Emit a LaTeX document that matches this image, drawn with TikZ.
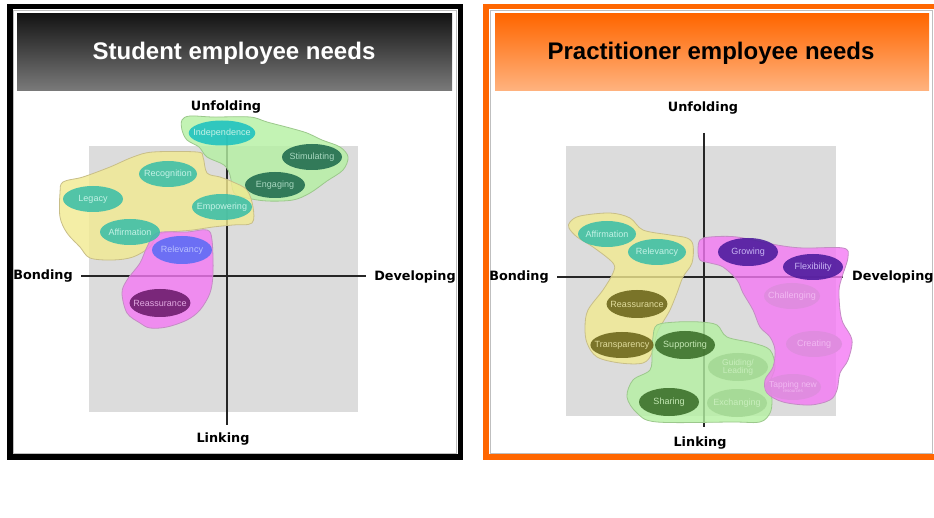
\documentclass[tikz,border=0pt]{standalone}
\usepackage{fontspec}
\setmainfont{Liberation Sans}
\newfontfamily\axisfont{DejaVu Sans}
\usetikzlibrary{shapes.geometric}
\definecolor{quadgray}{HTML}{DCDCDC}
\definecolor{frameorange}{HTML}{FF6600}
\definecolor{tealfill}{HTML}{3CBFA8}
\definecolor{tealtext}{HTML}{C4F2E6}
\definecolor{cyanfill}{HTML}{1CC2C0}
\definecolor{dkgreenfill}{HTML}{1F6B4E}
\definecolor{dkgreentext}{HTML}{A8D8C0}
\definecolor{bluefill}{HTML}{5A6CF5}
\definecolor{bluetext}{HTML}{B8C0FF}
\definecolor{plumfill}{HTML}{6A1A6A}
\definecolor{plumtext}{HTML}{E0A8E0}
\definecolor{olivefill}{HTML}{6B6519}
\definecolor{olivetext}{HTML}{E0DC9C}
\definecolor{forestfill}{HTML}{3A6E28}
\definecolor{foresttext}{HTML}{C4E8B4}
\definecolor{purplefill}{HTML}{4B1A9C}
\definecolor{purpletext}{HTML}{C8B4F4}
\definecolor{fgreenfill}{HTML}{A4D894}
\definecolor{fgreentext}{HTML}{C8EEBC}
\definecolor{fpinkfill}{HTML}{DE8CDE}
\definecolor{fpinktext}{HTML}{F2B8F2}
\definecolor{blobyellow}{HTML}{F2EA90}
\definecolor{blobyellowline}{HTML}{C8BE88}
\definecolor{blobgreen}{HTML}{B4F0A2}
\definecolor{blobgreenline}{HTML}{9CC88C}
\definecolor{blobpink}{HTML}{F478F4}
\definecolor{blobpinkline}{HTML}{C48CC4}
\tikzset{
  need/.style={ellipse, minimum width=60pt, minimum height=26pt, inner xsep=-5pt, inner ysep=0pt,
    font=\fontsize{9}{9}\selectfont, align=center, fill opacity=0.88, text opacity=1},
  tealneed/.style={need, fill=tealfill, text=tealtext},
  axislabel/.style={font=\axisfont\bfseries\fontsize{12.8}{13}\selectfont, text=black, inner sep=0pt},
  axisline/.style={line width=1.2pt, draw=black!85},
  blob/.style={line width=0.8pt, fill opacity=0.8, smooth cycle, tension=0.55},
  header/.style={font=\bfseries\fontsize{24}{24}\selectfont, inner sep=0pt}
}
\begin{document}
\begin{tikzpicture}[x=1pt,y=-1pt]
\useasboundingbox (0,0) rectangle (934,518);
\clip (0,0) rectangle (934,518);
\fill[white] (0,0) rectangle (934,518);

% ---------- frames ----------
\draw[line width=5.5pt, black] (9.75,6.75) rectangle (460.25,457);
\draw[line width=0.6pt, black!25] (13.5,10.5) rectangle (456.5,453.3);
\draw[line width=5.5pt, frameorange] (486,6.75) rectangle (950,457);
\draw[line width=0.6pt, black!25] (489.8,10.5) rectangle (932,453.3);

% ---------- headers ----------
\shade[top color=black!92, bottom color=black!52] (17,14) rectangle (452,91);
\node[header, text=white] (lefttitle) at (234,53) {Student employee needs};
\shade[top color=frameorange, bottom color=frameorange!50!white] (495,14) rectangle (929,91);
\node[header, text=black] (righttitle) at (711,53) {Practitioner employee needs};

% ========== LEFT CHART ==========
\fill[quadgray] (89,146) rectangle (358,412);
\coordinate (LU) at (227,133);
\coordinate (LD) at (227,425);
\coordinate (LL) at (81,276);
\coordinate (LR) at (366,276);
\draw[axisline] (LU) -- (LD);
\draw[axisline] (LL) -- (LR);
\node[axislabel] (lunf) at (226,107) {Unfolding};
\node[axislabel] (lbond) at (43,276) {Bonding};
\node[axislabel] (ldev) at (415,277) {Developing};
\node[axislabel] (llink) at (223,439) {Linking};

\draw[blob, fill=blobgreen, draw=blobgreenline] plot coordinates {
 (182,120) (190,116) (213,117) (250,117) (267,122) (290,128) (307,133) (322,140)
 (340,147) (348,157) (343,170) (327,181) (310,193) (293,200) (267,201) (247,198)
 (234,193) (230,175) (224,165) (207,157) (199,147) (187,140) (182,130)};
\draw[blob, fill=blobyellow, draw=blobyellowline] plot coordinates {
 (63,182) (83,177) (110,167) (133,157) (153,152) (197,152) (203,157) (207,173)
 (220,177) (233,182) (247,190) (253,207) (252,223) (233,225) (213,227) (193,230)
 (160,234) (150,247) (133,257) (113,260) (90,258) (80,247) (67,233) (60,217) (60,193)};
\draw[blob, fill=blobpink, draw=blobpinkline] plot coordinates {
 (157,233) (187,232) (207,230) (212,240) (213,273) (210,293) (200,310) (187,320)
 (167,327) (150,328) (140,323) (127,313) (122,293) (127,280) (140,263) (147,247)};

\node[need, fill=cyanfill, text=tealtext, minimum width=64pt, minimum height=25pt] (indep) at (222,133) {Independence};
\node[need, fill=dkgreenfill, text=dkgreentext] (stim) at (312,157) {Stimulating};
\node[need, fill=dkgreenfill, text=dkgreentext] (eng) at (275,185) {Engaging};
\node[tealneed, minimum width=58pt] (recog) at (168,174) {Recognition};
\node[tealneed] (legacy) at (93,199) {Legacy};
\node[tealneed] (empow) at (222,207) {Empowering};
\node[tealneed] (affirmL) at (130,232) {Affirmation};
\node[need, fill=bluefill, text=bluetext, minimum height=28pt] (relevL) at (182,250) {Relevancy};
\node[need, fill=plumfill, text=plumtext, minimum height=28pt] (reassL) at (160,303) {Reassurance};

% ========== RIGHT CHART ==========
\fill[quadgray] (566,146) rectangle (836,416);
\coordinate (RU) at (704,133);
\coordinate (RD) at (704,427);
\coordinate (RL) at (557,277);
\coordinate (RR) at (843,277);
\draw[axisline] (RU) -- (RD);
\draw[axisline] (RL) -- (RR);
\node[axislabel] (runf) at (703,108) {Unfolding};
\node[axislabel] (rbond) at (519,277) {Bonding};
\node[axislabel, anchor=west] (rdev) at (852,277) {Developing};
\node[axislabel] (rlink) at (700,443) {Linking};

\draw[blob, fill=blobyellow, draw=blobyellowline] plot coordinates {
 (570,222) (580,216) (610,213) (630,218) (643,230) (670,235) (687,238) (693,245)
 (692,263) (683,277) (677,293) (670,310) (663,322) (657,333) (652,353) (643,363)
 (620,363) (597,357) (587,343) (585,327) (588,310) (603,290) (613,273) (613,263)
 (593,247) (577,237) (569,228)};
\draw[blob, fill=blobgreen, draw=blobgreenline] plot coordinates {
 (657,325) (677,322) (700,322) (717,325) (727,337) (753,343) (770,350) (775,367)
 (770,383) (772,400) (770,413) (760,422) (733,422) (657,422) (637,413) (627,397)
 (633,380) (650,370) (652,353) (653,337)};
\draw[blob, fill=blobpink, draw=blobpinkline] plot coordinates {
 (700,240) (710,237) (737,237) (777,245) (803,248) (843,248) (848,257) (842,277)
 (839,290) (840,310) (843,323) (852,340) (848,360) (840,373) (837,390) (830,400)
 (810,405) (783,402) (767,393) (765,380) (773,367) (775,350) (770,337) (760,327)
 (753,310) (743,293) (737,280) (723,267) (710,263) (700,260) (698,250)};

\node[tealneed, minimum width=58pt] (affirmR) at (607,234) {Affirmation};
\node[tealneed, minimum width=58pt] (relevR) at (657,252) {Relevancy};
\node[need, fill=olivefill, text=olivetext, minimum height=28pt] (reassR) at (637,304) {Reassurance};
\node[need, fill=olivefill, text=olivetext] (transp) at (622,345) {Transparency};
\node[need, fill=forestfill, text=foresttext, minimum height=28pt] (support) at (685,345) {Supporting};
\node[need, fill=forestfill, text=foresttext, minimum height=28pt] (sharing) at (669,402) {Sharing};
\node[need, fill=fgreenfill, text=fgreentext, minimum height=28pt, font=\fontsize{8.5}{8}\selectfont] (guiding) at (738,367) {Guiding/\\Leading};
\node[need, fill=fgreenfill, text=fgreentext, minimum height=28pt] (exch) at (737,403) {Exchanging};
\node[need, fill=purplefill, text=purpletext, minimum height=28pt] (growing) at (748,252) {Growing};
\node[need, fill=purplefill, text=purpletext] (flex) at (813,267) {Flexibility};
\node[need, fill=fpinkfill, text=fpinktext, minimum width=56pt] (chall) at (792,296) {Challenging};
\node[need, fill=fpinkfill, text=fpinktext, minimum width=56pt] (creating) at (814,344) {Creating};
\node[need, fill=fpinkfill, text=fpinktext, minimum width=56pt, font=\fontsize{8.5}{5}\selectfont] (tapping) at (793,387) {Tapping new\\{\fontsize{4.5}{4.5}\selectfont resources}};
\end{tikzpicture}
\end{document}
